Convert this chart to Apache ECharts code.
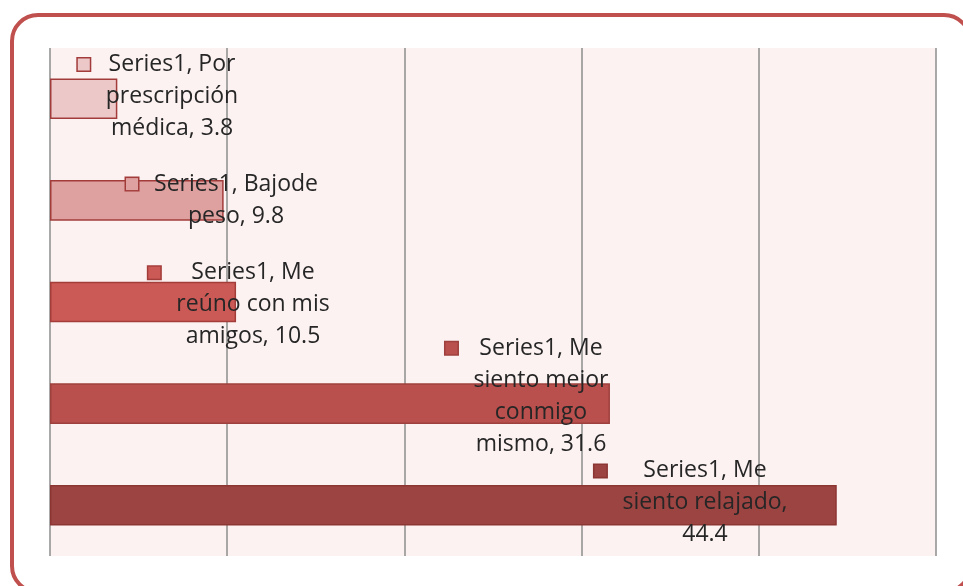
<!DOCTYPE html>
<html>
<head>
<meta charset="utf-8">
<script src="https://cdn.jsdelivr.net/npm/echarts@6/dist/echarts.min.js"></script>
<style>
  html, body { margin: 0; padding: 0; background: #fff; }
  #chart_container { width: 963px; height: 586px; }
</style>
</head>
<body>
<div id="chart_container"></div>
<script>
var seriesName = "Series1";
var categories = [
  "Por prescripción médica",
  "Bajode peso",
  "Me reúno con mis amigos",
  "Me siento mejor conmigo mismo",
  "Me siento relajado"
];
var values = [3.8, 9.8, 10.5, 31.6, 44.4];
// words per label line, as wrapped in the original
var lineWords = [[2, 1, 2], [2, 2], [2, 3, 2], [2, 2, 1, 2], [2, 2, 1]];

var barColors = ["#ecc8c8", "#dea1a0", "#cb5a56", "#b9504d", "#9c4442"];
var barBorders = ["#a23c3a", "#a23c3a", "#a33d3a", "#9e403d", "#8c3634"];
// label anchor inside each bar rect [x, y]
var labelPos = [[108, 18], [172, 20], [189, 23], [477, 13], [641, 18]];

var dom = document.getElementById("chart_container");
var myChart = echarts.init(dom, null, { renderer: "canvas" });

function buildLabel(i) {
  var words = (seriesName + ", " + categories[i] + ", " + values[i]).split(" ");
  var lines = [];
  var k = 0;
  lineWords[i].forEach(function (n) {
    lines.push(words.slice(k, k + n).join(" "));
    k += n;
  });
  return lines.map(function (ln, j) {
    if (j === 0) return "{m|}{s|}{c|" + ln + "}";
    return "{g|}{c|" + ln + "}";
  }).join("\n");
}

var data = values.map(function (v, i) {
  return {
    value: v,
    itemStyle: { color: barColors[i], borderColor: barBorders[i], borderWidth: 1.5 },
    label: {
      show: true,
      position: labelPos[i],
      align: "center",
      verticalAlign: "middle",
      formatter: buildLabel(i),
      rich: {
        m: {
          align: "left",
          width: 12, height: 12,
          backgroundColor: barColors[i],
          borderColor: barBorders[i],
          borderWidth: 1.5
        },
        s: { align: "left", width: 16 },
        g: { align: "left", width: 28 },
        c: {
          align: "center",
          fontFamily: "Open Sans",
          fontSize: 23,
          lineHeight: 32,
          color: "#262626"
        }
      }
    }
  };
});

var option = {
  animation: false,
  grid: {
    left: 50, right: 27, top: 48, bottom: 30,
    show: true, backgroundColor: "#fdf2f2", borderWidth: 0
  },
  xAxis: {
    type: "value",
    min: 0, max: 50, interval: 10,
    axisLabel: { show: false },
    axisLine: { show: false },
    axisTick: { show: false },
    splitLine: { lineStyle: { color: "#8c8c8c", width: 1.5 } }
  },
  yAxis: {
    type: "category",
    inverse: true,
    data: categories,
    axisLabel: { show: false },
    axisLine: { show: false },
    axisTick: { show: false }
  },
  series: [
    {
      name: seriesName,
      type: "bar",
      barWidth: "40%",
      data: data
    }
  ],
  graphic: [
    {
      type: "rect",
      shape: { x: 12, y: 15, width: 958, height: 577, r: 26 },
      style: { fill: "none", stroke: "#c0504d", lineWidth: 4 },
      z: 100
    }
  ]
};

myChart.setOption(option);
window.addEventListener("resize", myChart.resize);
</script>
</body>
</html>
